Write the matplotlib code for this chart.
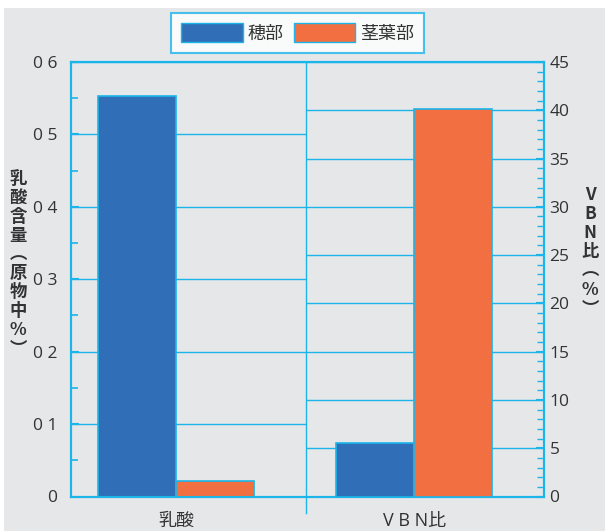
import numpy as np
import matplotlib
matplotlib.use("Agg")
import matplotlib.pyplot as plt
from matplotlib.patches import Rectangle, Patch
from matplotlib.ticker import MultipleLocator, FixedLocator, FixedFormatter
import matplotlib.transforms as mtransforms

plt.rcParams["font.family"] = ["Open Sans", "Noto Sans CJK JP", "DejaVu Sans"]

# data
categories = ["乳酸", "V B N比"]
series_names = ["穂部", "茎葉部"]
hobu = [0.553, 5.5]        # 穂部: lactic acid (%), VBN ratio (%)
keiyou = [0.022, 40.1]     # 茎葉部
left_ticks = [0, 0.1, 0.2, 0.3, 0.4, 0.5, 0.6]
left_labels = ["0", "0 1", "0 2", "0 3", "0 4", "0 5", "0 6"]
right_ticks = [0, 5, 10, 15, 20, 25, 30, 35, 40, 45]

BLUE = "#306fb7"
ORANGE = "#f26f41"
CYAN = "#1cb5ea"
BG = "#e6e7e9"
TXT = "#333333"

W, H = 605, 531
fig = plt.figure(figsize=(W / 100, H / 100), dpi=100, facecolor="white")
fig.patches.append(Rectangle((4 / W, 0), 1, (H - 8) / H, transform=fig.transFigure,
                             facecolor=BG, edgecolor="none", zorder=-10))

x0, x1, yb, yt = 71, 544, 496.5, 62
ax = fig.add_axes([x0 / W, 1 - yb / H, (x1 - x0) / W, (yb - yt) / H])
ax.set_facecolor("none")
ax2 = ax.twinx()

xlim = (-0.44, 1.545)
split = 0.546
bw = 0.327
ax.set_xlim(*xlim)
ax.set_ylim(0, 0.6)
ax2.set_ylim(0, 45)

# left category on the left axis, right category on the right axis
ax.bar(0 - bw / 2, hobu[0], bw, color=BLUE, edgecolor=CYAN, linewidth=1.2, zorder=3)
ax.bar(0 + bw / 2, keiyou[0], bw, color=ORANGE, edgecolor=CYAN, linewidth=1.2, zorder=3)
ax2.bar(1 - bw / 2, hobu[1], bw, color=BLUE, edgecolor=CYAN, linewidth=1.2, zorder=3)
ax2.bar(1 + bw / 2, keiyou[1], bw, color=ORANGE, edgecolor=CYAN, linewidth=1.2, zorder=3)

# each half gets its own grid
ax.hlines(left_ticks[1:], xlim[0], split, color=CYAN, linewidth=1.0, zorder=1)
ax2.hlines(right_ticks[1:], split, xlim[1], color=CYAN, linewidth=1.0, zorder=1)

# divider between the two groups, running below the axis
trans = mtransforms.blended_transform_factory(ax.transData, ax.transAxes)
ax.plot([split, split], [1, -16.5 / (yb - yt)], transform=trans, color=CYAN,
        linewidth=1.0, clip_on=False, zorder=2)

for s in ax.spines.values():
    s.set_color(CYAN)
    s.set_linewidth(1.5)
for s in ax2.spines.values():
    s.set_color(CYAN)
    s.set_linewidth(1.5)

ax.yaxis.set_major_locator(FixedLocator(left_ticks))
ax.yaxis.set_major_formatter(FixedFormatter(left_labels))
ax.yaxis.set_minor_locator(MultipleLocator(0.05))
ax.tick_params(axis="y", which="major", direction="in", length=6, width=1.5,
               color=CYAN, labelsize=12.5, labelcolor=TXT, pad=10)
ax.tick_params(axis="y", which="minor", direction="in", length=5, width=1.2, color=CYAN)

ax2.set_yticks(right_ticks)
ax2.yaxis.set_minor_locator(MultipleLocator(1))
ax2.tick_params(axis="y", which="major", direction="in", length=6, width=1.5,
                color=CYAN, labelsize=12.5, labelcolor=TXT, pad=4)
ax2.tick_params(axis="y", which="minor", direction="in", length=5, width=1.0, color=CYAN)

ax.set_xticks([0, 1])
ax.set_xticklabels(categories, fontsize=13, color=TXT)
ax.tick_params(axis="x", length=0, pad=11)

# vertical axis titles
fig.text(18 / W, 1 - 264 / H, "\n".join("乳酸含量︵原物中%︶"), ha="center", va="center",
         fontsize=12.5, fontweight="bold", color=TXT, linespacing=1.07,
         family=["Noto Sans CJK JP"])
fig.text(590 / W, 1 - 252 / H, "\n".join("VBN比︵%︶"), ha="center", va="center",
         fontsize=12.5, fontweight="bold", color=TXT, linespacing=1.07,
         family=["Noto Sans CJK JP"])

handles = [Patch(facecolor=BLUE, edgecolor=CYAN, label=series_names[0]),
           Patch(facecolor=ORANGE, edgecolor=CYAN, label=series_names[1])]
leg = fig.legend(handles=handles, loc="center", bbox_to_anchor=(297.5 / W, 1 - 33 / H),
                 ncol=2, frameon=True, fancybox=False, fontsize=13, handlelength=3.4,
                 handleheight=1.25, handletextpad=0.25, columnspacing=0.6,
                 borderpad=0.55, labelcolor=TXT)
leg.get_frame().set_edgecolor(CYAN)
leg.get_frame().set_linewidth(1.5)
leg.get_frame().set_facecolor("white")

fig.savefig("out.png", dpi=100, facecolor=fig.get_facecolor())
